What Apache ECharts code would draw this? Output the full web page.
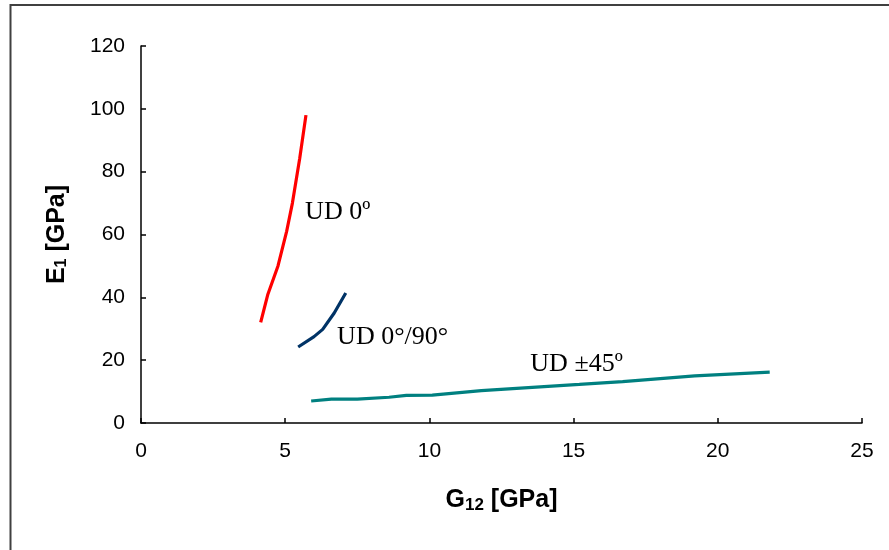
<!DOCTYPE html>
<html>
<head>
<meta charset="utf-8">
<script src="https://cdn.jsdelivr.net/npm/echarts@6/dist/echarts.min.js"></script>
<style>
html,body{margin:0;padding:0;background:#fff;}
#c{width:889px;height:550px;}
</style>
</head>
<body>
<div id="c"></div>
<script>
// G12 [GPa], E1 [GPa]
const ud0 = [[4.15,32],[4.4,41],[4.75,50],[5.05,61],[5.25,70],[5.5,84],[5.72,98]];
const ud090 = [[5.45,24.2],[6.0,27.5],[6.3,29.8],[6.7,35],[7.1,41.4]];
const ud45 = [[5.9,7],[6.6,7.6],[7.5,7.6],[8.6,8.2],[9.2,8.8],[10.1,8.9],[11.8,10.3],[15.2,12.3],[16.7,13.2],[19.2,15],[21.8,16.2]];
const seriesNames = ['UD 0º','UD 0°/90°','UD ±45º'];
const labelPos = [[5.69,67.2],[6.8,27.4],[13.5,18.8]];
const xTicks = {min:0,max:25,interval:5};
const yTicks = {min:0,max:120,interval:20};

const chart = echarts.init(document.getElementById('c'));
const colors = ['#FF0000','#003366','#008080'];
const datasets = [ud0, ud090, ud45];
const series = datasets.map((d,i)=>({
  type:'line', name:seriesNames[i], data:d, showSymbol:false, symbol:'none',
  lineStyle:{color:colors[i],width:3.2}, smooth:false, z:2
}));
series.push({
  type:'scatter', symbolSize:0, itemStyle:{color:'#000',opacity:1},
  data: labelPos.map((p,i)=>({value:p, label:{show:true, formatter:seriesNames[i], color:'#000'}})),
  label:{show:true, position:'right', distance:0, fontFamily:'Liberation Serif', fontSize:26, color:'#000', opacity:1},
  silent:true, z:3
});
const axisLine = {show:true, lineStyle:{color:'#000',width:1.5}};
chart.setOption({
  animation:false,
  backgroundColor:'#fff',
  grid:{left:141,right:27,top:46,bottom:127},
  graphic:[{type:'rect',shape:{x:10.5,y:5,width:900,height:600},style:{fill:'none',stroke:'#404040',lineWidth:2},silent:true}],
  xAxis:{type:'value',min:xTicks.min,max:xTicks.max,interval:xTicks.interval,
    axisLine:axisLine, axisTick:{show:true,inside:true,length:5,lineStyle:{color:'#000',width:1.5}},
    splitLine:{show:false},
    axisLabel:{fontFamily:'Liberation Sans',fontSize:21,color:'#000',margin:18},
    name:'{m|G}{s|12}{m| [GPa]}', nameLocation:'middle', nameGap:64,
    nameTextStyle:{rich:{m:{fontFamily:'Liberation Sans',fontSize:25,fontWeight:'bold',color:'#000'},
      s:{fontFamily:'Liberation Sans',fontSize:17,fontWeight:'bold',color:'#000',padding:[10,0,0,0]}}}
  },
  yAxis:{type:'value',min:yTicks.min,max:yTicks.max,interval:yTicks.interval,
    axisLine:axisLine, axisTick:{show:true,inside:true,length:5,lineStyle:{color:'#000',width:1.5}},
    splitLine:{show:false},
    axisLabel:{fontFamily:'Liberation Sans',fontSize:21,color:'#000',margin:16},
    name:'{m|E}{s|1}{m| [GPa]}', nameLocation:'middle', nameGap:71, nameRotate:90,
    nameTextStyle:{rich:{m:{fontFamily:'Liberation Sans',fontSize:25,fontWeight:'bold',color:'#000'},
      s:{fontFamily:'Liberation Sans',fontSize:16,fontWeight:'bold',color:'#000',padding:[10,0,0,0]}}}
  },
  series:series
});
</script>
</body>
</html>
